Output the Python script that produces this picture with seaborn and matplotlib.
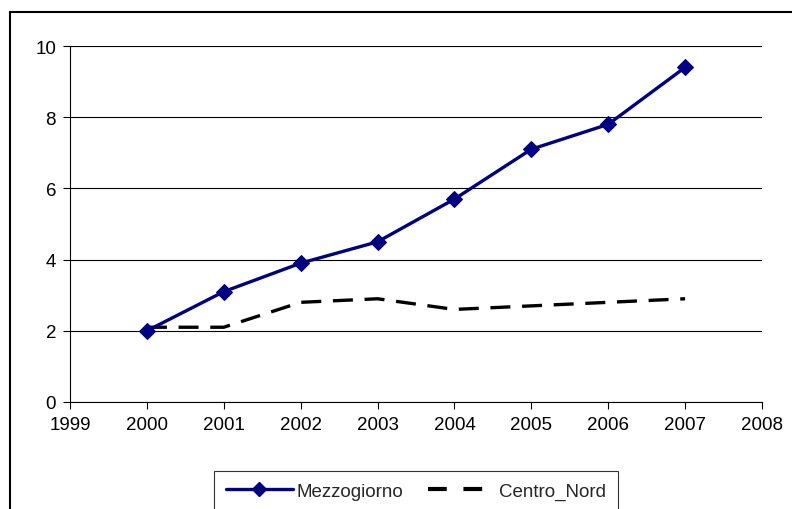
import matplotlib
matplotlib.use("Agg")
import matplotlib.pyplot as plt
import seaborn as sns
import pandas as pd
from matplotlib.patches import Rectangle
from matplotlib.lines import Line2D

years = [2000, 2001, 2002, 2003, 2004, 2005, 2006, 2007]
mezzogiorno = [2.0, 3.1, 3.9, 4.5, 5.7, 7.1, 7.8, 9.4]
centro_nord = [2.1, 2.1, 2.8, 2.9, 2.6, 2.7, 2.8, 2.9]
x_ticks = [1999, 2000, 2001, 2002, 2003, 2004, 2005, 2006, 2007, 2008]
y_ticks = [0, 2, 4, 6, 8, 10]

df_m = pd.DataFrame({"anno": years, "valore": mezzogiorno})
df_c = pd.DataFrame({"anno": years, "valore": centro_nord})

sns.set_theme(style="white")
plt.rcParams["font.family"] = ["Liberation Sans", "DejaVu Sans"]

FS = 13.5

fig = plt.figure(figsize=(7.92, 5.10), dpi=100)
ax = fig.add_axes([70 / 792, 1 - 403 / 510, (762 - 70) / 792, (403 - 47) / 510])

sns.lineplot(data=df_c, x="anno", y="valore", color="black", linewidth=2.4,
             dashes=False, ax=ax, legend=False)
ax.lines[-1].set_dashes((6, 3.5))
sns.lineplot(data=df_m, x="anno", y="valore", color="#000080", linewidth=2.4,
             marker="D", markersize=8.5, markeredgecolor="#000080",
             ax=ax, legend=False)

ax.set_xlim(1999, 2008)
ax.set_ylim(0, 10)
ax.set_xticks(x_ticks)
ax.set_yticks(y_ticks)
ax.set_xticklabels([str(t) for t in x_ticks], fontsize=FS)
ax.set_yticklabels([str(t) for t in y_ticks], fontsize=FS)
ax.set_xlabel("")
ax.set_ylabel("")
ax.yaxis.grid(True, color="black", linewidth=0.8)
ax.xaxis.grid(False)
ax.set_axisbelow(True)
for s in ["top", "right"]:
    ax.spines[s].set_visible(False)
for s in ["left", "bottom"]:
    ax.spines[s].set_color("black")
    ax.spines[s].set_linewidth(0.8)
ax.tick_params(axis="both", direction="out", length=5, width=0.8, color="black",
               bottom=True, left=True, labelcolor="black", pad=5)

# outer frame
fig.patches.append(Rectangle((10 / 792, -0.05), 1.0, 1 - 13 / 510 + 0.05,
                             transform=fig.transFigure, fill=False,
                             edgecolor="black", linewidth=1.5))

handles = [
    Line2D([], [], color="#000080", marker="D", markersize=7.5, linewidth=2.4),
    Line2D([], [], color="black", linewidth=3.0, dashes=(4.5, 4)),
]
leg = fig.legend(handles, ["Mezzogiorno", "Centro_Nord"], loc="upper center",
                 bbox_to_anchor=(416 / 792, 1 - 472 / 510), ncol=2,
                 fontsize=FS, frameon=True, fancybox=False, edgecolor="black",
                 handlelength=3.6, columnspacing=1.3, handletextpad=0.2,
                 borderpad=0.62, borderaxespad=0)
leg.get_frame().set_linewidth(0.8)

fig.savefig("out.png", dpi=100, facecolor="white")
